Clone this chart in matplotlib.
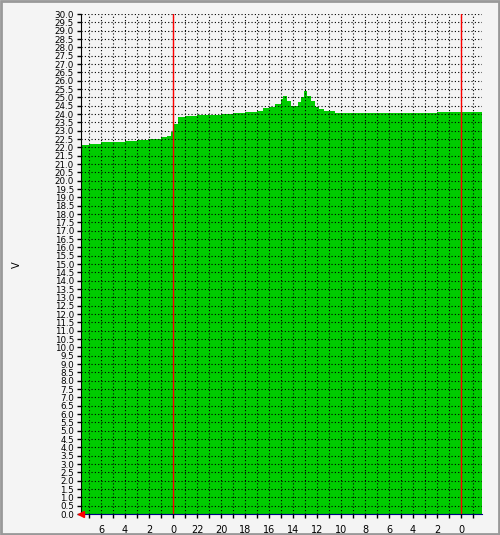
import matplotlib
matplotlib.use("Agg")
import matplotlib.pyplot as plt
import numpy as np

# hours relative to first midnight (axis labels count back, as in the source)
hours = [-7.67, -7, -6, -5, -4, -3, -2, -1, -0.5, -0.2, 0.1, 0.4, 1, 2, 3, 4, 5, 6, 7, 7.5,
         8, 8.5, 9, 9.2, 9.5, 9.8, 10, 10.4, 10.7, 10.9, 11.2, 11.5, 11.8, 12.2, 12.6, 13,
         13.5, 14, 15, 16, 17, 18, 19, 20, 21, 22, 23, 24, 25, 25.75]
volts = [22.15, 22.2, 22.3, 22.35, 22.4, 22.45, 22.5, 22.6, 22.7, 22.9, 23.4, 23.85, 23.9, 23.95, 23.95, 24.0, 24.05, 24.1, 24.2, 24.35,
         24.4, 24.6, 24.9, 25.1, 24.8, 24.5, 24.5, 24.7, 25.0, 25.4, 25.1, 24.8, 24.4, 24.3, 24.2, 24.2,
         24.05, 24.05, 24.05, 24.05, 24.05, 24.05, 24.05, 24.05, 24.05, 24.1, 24.1, 24.1, 24.15, 24.15]
yticks = np.arange(0, 30.01, 0.5)
xmin, xmax = -7.67, 25.75

fig = plt.figure(figsize=(5, 5.35), dpi=100, facecolor="#f4f4f4")
ax = fig.add_axes([0.162, 0.039, 0.802, 0.9346])
ax.set_facecolor("#f4f4f4")

ax.fill_between(hours, volts, 0, step="post", color="#00cc00", lw=0, zorder=1)
ax.set_xlim(xmin, xmax)
ax.set_ylim(0, 30)

ax.set_yticks(yticks)
ax.set_yticklabels([f"{v:.1f}" for v in yticks], fontsize=6.3)
xt = np.arange(-6, 26, 2)
ax.set_xticks(xt)
ax.set_xticklabels([str(int((-h) % 24)) for h in xt], fontsize=7)
ax.set_xticks(np.arange(-7, 26, 1), minor=True)
ax.tick_params(length=3, width=1, direction="out", which="both", pad=2)
ax.tick_params(axis="x", pad=5)
ax.grid(True, which="both", color="black", linestyle=(0, (1, 2)), lw=0.8, zorder=2)
ax.set_axisbelow(False)
for h in [0, 24]:
    ax.axvline(h, color="red", lw=1, zorder=3)
for s in ["top", "right"]:
    ax.spines[s].set_visible(False)
ax.spines["bottom"].set_color("#000080")
ax.plot([xmin], [0], marker="<", color="red", ms=5, clip_on=False, zorder=5)
fig.text(0.024, 0.505, "V", fontsize=7, rotation=90, va="center")
fig.patches.append(plt.Rectangle((0.002, 0.002), 0.996, 0.996, transform=fig.transFigure,
                                 fill=False, edgecolor="#999999", lw=2))

fig.savefig("out.png", dpi=100, facecolor=fig.get_facecolor())
